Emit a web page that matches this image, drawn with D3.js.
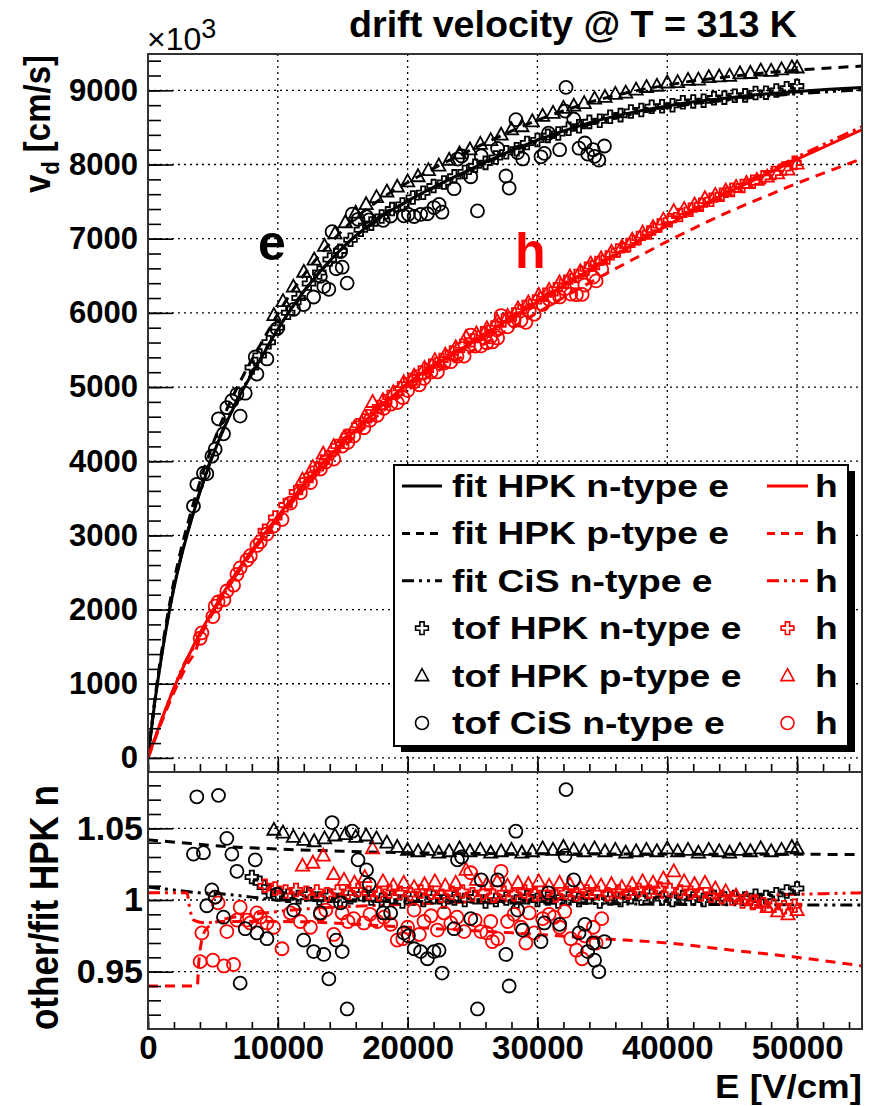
<!DOCTYPE html>
<html>
<head>
<meta charset="utf-8">
<script src="https://cdn.jsdelivr.net/npm/d3@7"></script>
<style>
  body { margin: 0; background: #fff; }
  svg text { font-family: "Liberation Sans", Arial, Helvetica, sans-serif; }
</style>
</head>
<body>
<svg id="plot"></svg>
<script>
// ---------- data ----------
// ticks
const xTicks = [0, 10000, 20000, 30000, 40000, 50000];
const yTopTicks = [0, 1000, 2000, 3000, 4000, 5000, 6000, 7000, 8000, 9000];
const yBotTicks = [0.95, 1, 1.05];
const yBotLabels = ["0.95", "1", "1.05"];

// fits, electrons (v in 1e3 cm/s)
const eFitE = [0,250,500,1000,1500,2000,2500,3000,4000,5000,6000,7000,8000,9000,10000,12000,14000,16000,18000,20000,22500,25000,27500,30000,32500,35000,37500,40000,42500,45000,47500,50000,52500,55000];
const eFitHpkN = [0,370,720,1320,1840,2290,2670,3000,3580,4080,4500,4860,5180,5480,5780,6290,6700,7040,7300,7510,7740,7950,8150,8330,8480,8610,8710,8790,8855,8905,8950,8985,9015,9040];
const eFitHpkP = [0,385,750,1375,1915,2383,2777,3119,3719,4235,4669,5040,5369,5677,5985,6510,6931,7279,7545,7758,7994,8208,8413,8598,8753,8887,8990,9071,9138,9189,9235,9272,9302,9327];
const eFitCisN = [0,373,726,1331,1855,2306,2686,3018,3598,4098,4518,4875,5190,5485,5780,6289,6697,7036,7294,7502,7730,7938,8135,8313,8460,8588,8686,8764,8828,8876,8920,8954,8983,9008];

// fits, holes
const hFitE = [0,1000,2000,3000,4000,5000,6000,7000,8000,9000,10000,12000,14000,16000,18000,20000,22500,25000,27500,30000,32500,35000,37500,40000,42500,45000,47500,50000,52500,55000];
const hFitHpkN = [0,490,940,1330,1680,1990,2280,2550,2800,3030,3260,3685,4075,4420,4745,5050,5340,5610,5880,6150,6420,6680,6930,7180,7420,7650,7860,8070,8270,8470];
const hFitHpkPE = [0,1000,2000,3000,3800,3900,4100,4500,5500,7000,10000,12500,15000,17500,20000,22500,25000,27500,30000,32500,35000,37500,40000,42500,45000,47500,50000,52500,55000];
const hFitHpkP = [0,461,884,1250,1513,1571,1660,1798,2103,2514,3211,3722,4176,4583,4954,5232,5490,5745,6003,6256,6500,6733,6964,7179,7382,7565,7747,7914,8080];
const hFitCisNE = [0,1000,2000,3000,3200,3500,4500,6000,8000,10000,15000,20000,25000,30000,35000,40000,45000,50000,55000];
const hFitCisN = [0,492,945,1337,1393,1484,1806,2250,2769,3234,4225,5035,5601,6150,6686,7195,7673,8102,8512];

// ratio curves of the fits (lower panel)
const rPeE = [0,2500,5000,10000,15000,20000,30000,40000,55000];
const rPe = [1.042,1.040,1.038,1.0355,1.034,1.033,1.0322,1.032,1.0318];
const rCeE = [0,2000,4000,6000,8000,10000,20000,30000,40000,55000];
const rCe = [1.009,1.007,1.005,1.004,1.002,1.000,0.999,0.998,0.997,0.9965];
const rPhE = [0,3800,3900,4100,4500,5500,10000,20000,30000,35000,40000,45000,50000,55000];
const rPh = [0.940,0.940,0.955,0.970,0.980,0.985,0.985,0.981,0.976,0.973,0.970,0.965,0.960,0.954];
const rChE = [0,3000,3200,3500,4500,6000,10000,20000,30000,40000,50000,55000];
const rCh = [1.005,1.005,0.995,0.986,0.984,0.987,0.992,0.997,1.000,1.002,1.004,1.005];

// tof HPK n-type, electrons
const tNeE = [8000,8600,9300,10000,10800,11600,12400,13200,14000,14800,15600,16400,17200,18000,18800,19600,20400,21200,22000,22800,23600,24400,25200,26000,26800,27600,28400,29200,30000,30800,31600,32400,33200,34000,34800,35600,36400,37200,38000,38800,39600,40400,41200,42000,42800,43600,44400,45200,46000,46800,47600,48400,49200,50000];
const tNeV = [5263,5424,5603,5803,6002,6200,6397,6543,6720,6836,6986,7120,7203,7300,7399,7461,7555,7620,7709,7757,7840,7900,7982,8022,8094,8165,8207,8289,8330,8386,8418,8482,8516,8575,8591,8643,8666,8715,8735,8778,8786,8800,8839,8851,8861,8895,8902,8927,8932,8964,8969,8999,9028,9057];
const tNeR = [1.016,1.012,1.006,1.004,1.003,1.002,1.004,1.001,1.003,1.000,1.002,1.004,1.001,1.000,1.002,0.999,1.001,1.000,1.002,0.999,1.001,1.000,1.002,0.999,1.000,1.001,0.999,1.002,1.000,1.001,0.999,1.001,1.000,1.002,0.999,1.001,1.000,1.002,1.001,1.003,1.001,1.000,1.002,1.001,1.000,1.002,1.001,1.002,1.001,1.003,1.002,1.004,1.006,1.008];

// tof HPK p-type, electrons
const tPeE = [9700,10400,11200,12000,12800,13600,14400,15200,16000,16800,17600,18400,19200,20000,20800,21600,22400,23200,24000,24800,25600,26400,27200,28000,28800,29600,30400,31200,32000,32800,33600,34400,35200,36000,36800,37600,38400,39200,40000,40800,41600,42400,43200,44000,44800,45600,46400,47200,48000,48800,49600,50000];
const tPeV = [5969,6158,6354,6554,6719,6903,7073,7222,7350,7465,7560,7636,7701,7773,7842,7925,7986,8064,8149,8203,8278,8328,8402,8473,8516,8583,8655,8696,8763,8793,8827,8888,8911,8953,8969,9009,9045,9062,9106,9111,9141,9144,9179,9187,9195,9228,9234,9267,9262,9282,9311,9308];
const tPeR = [1.049,1.047,1.044,1.042,1.041,1.043,1.045,1.046,1.044,1.045,1.043,1.040,1.037,1.035,1.034,1.035,1.033,1.034,1.036,1.034,1.035,1.033,1.034,1.035,1.033,1.034,1.036,1.035,1.037,1.035,1.034,1.036,1.034,1.035,1.033,1.034,1.035,1.034,1.036,1.034,1.035,1.033,1.035,1.034,1.033,1.035,1.034,1.036,1.034,1.035,1.037,1.036];

// tof CiS n-type, electrons
const tCeE = [3500,3760,4270,4530,4920,5175,5430,5815,6075,6460,6850,7100,7490,8260,8390,9160,9940,11220,11990,12760,13280,13540,13930,14180,14500,14830,14960,15340,15730,16180,16830,17040,18120,18690,19710,20060,20500,21000,21520,22030,22420,22650,23580,23840,24160,24860,25380,25670,26930,27570,27820,28340,28470,28860,30270,30530,30850,31710,32130,32200,32790,33200,33650,33870,34290,34400,34730,35160];
const tCeV = [3395,3689,3838,3830,4068,4162,4572,4369,4722,4815,4902,4608,4917,5405,5175,5379,5785,6048,6111,6214,6493,6355,6318,7094,6595,6827,6616,6401,7330,7261,7298,7254,7247,7306,7308,7328,7299,7328,7336,7420,7462,7357,7674,8073,8115,7835,7374,8116,8217,7845,7683,8604,8162,8075,8104,8150,8423,8200,8720,9040,8614,8220,8290,8140,8200,8110,8060,8250];
const tCeR = [1.032,1.072,1.033,0.996,1.007,1.002,1.073,0.988,1.043,1.032,1.020,0.942,0.980,1.028,0.977,0.973,1.004,0.993,0.972,0.964,0.991,0.962,0.945,1.054,0.972,0.998,0.964,0.924,1.048,1.028,1.021,1.011,0.991,0.991,0.977,0.975,0.966,0.964,0.959,0.964,0.965,0.949,0.980,1.028,1.030,0.987,0.924,1.014,1.014,0.962,0.940,1.048,0.993,0.979,0.971,0.984,1.005,0.983,1.031,1.077,1.014,0.977,0.983,0.964,0.970,0.958,0.950,0.971];

// tof HPK n-type, holes
const tNhE = [9000,9800,10600,11400,12200,13000,13800,14600,15400,16200,17000,17800,18600,19400,20200,21000,21800,22600,23400,24200,25000,25800,26600,27400,28200,29000,29800,30600,31400,32200,33000,33800,34600,35400,36200,37000,37800,38600,39400,40200,41000,41800,42600,43400,44200,45000,45800,46600,47400,48200,49000,49800];
const tNhV = [3061,3240,3408,3583,3743,3903,4052,4204,4342,4485,4606,4731,4865,4983,5094,5197,5286,5366,5464,5557,5632,5725,5802,5898,5979,6079,6153,6245,6319,6419,6498,6595,6672,6747,6840,6914,7009,7082,7177,7250,7319,7389,7459,7525,7591,7658,7710,7769,7827,7886,7946,8022];
const tNhR = [1.010,1.008,1.006,1.007,1.005,1.006,1.004,1.006,1.005,1.007,1.005,1.004,1.006,1.005,1.004,1.006,1.005,1.003,1.005,1.006,1.004,1.005,1.003,1.005,1.004,1.006,1.004,1.005,1.003,1.005,1.004,1.006,1.005,1.004,1.006,1.005,1.007,1.006,1.008,1.007,1.006,1.005,1.004,1.003,1.002,1.001,0.999,0.998,0.997,0.996,0.995,0.996];

// tof HPK p-type, holes
const tPhE = [11900,12700,13500,14300,15100,15900,16700,17300,18100,18900,19700,20500,21300,22100,22900,23700,24500,25300,26100,26900,27700,28500,29300,30100,30900,31700,32500,33300,34100,34900,35700,36500,37300,38100,38900,39700,40500,41300,42100,42900,43700,44500,45300,46100,46900,47700,48500,49300,50000];
const tPhV = [3752,3921,4101,4202,4326,4457,4606,4798,4823,4932,5065,5154,5258,5362,5437,5536,5672,5722,5792,5891,5960,6060,6142,6241,6310,6410,6491,6561,6665,6736,6823,6891,6987,7082,7155,7257,7372,7400,7461,7546,7590,7649,7698,7751,7793,7836,7880,7932,8013];
const tPhR = [1.024,1.026,1.031,1.018,1.014,1.012,1.016,1.036,1.013,1.010,1.012,1.009,1.011,1.013,1.010,1.012,1.021,1.014,1.011,1.013,1.010,1.012,1.011,1.013,1.010,1.012,1.011,1.009,1.012,1.010,1.011,1.009,1.011,1.013,1.012,1.015,1.020,1.013,1.011,1.012,1.008,1.006,1.003,1.001,0.998,0.995,0.992,0.990,0.993];

// tof CiS n-type, holes
const tChE = [4015,4150,5000,5175,5400,5850,6075,6590,6850,7100,7620,7880,8390,8650,9160,9680,10320,10970,11740,12510,13280,13700,14310,14960,15400,15850,16630,17100,17660,18170,18700,19200,19630,20000,20490,20900,21260,21800,22290,22800,23320,23800,24350,24860,25200,25640,26100,26400,26530,26930,27200,27700,28200,28730,29110,29370,29750,30400,30900,31280,31710,32100,32570,33000,33440,33650,34300,34520,34950];
const tChV = [1613,1687,1906,2045,2102,2133,2250,2329,2475,2562,2667,2726,2864,2915,3019,3126,3215,3436,3575,3713,3895,3989,4029,4204,4254,4338,4451,4553,4620,4714,4769,4790,4859,4954,5072,5030,5118,5202,5204,5323,5342,5414,5418,5701,5553,5554,5597,5675,5608,5662,5964,5812,5895,5899,5872,6027,5982,6114,6185,6212,6215,6325,6254,6245,6249,6376,6482,6430,6588];
const tChR = [0.957,0.977,0.958,1.002,0.998,0.954,0.978,0.955,0.986,0.995,0.986,0.984,0.991,0.988,0.984,0.981,0.966,0.991,0.985,0.981,0.990,0.993,0.976,0.991,0.985,0.987,0.984,0.990,0.985,0.988,0.983,0.972,0.973,0.981,0.993,0.976,0.985,0.989,0.979,0.991,0.984,0.988,0.978,1.019,0.986,0.978,0.977,0.985,0.971,0.973,1.020,0.985,0.990,0.981,0.970,0.991,0.977,0.987,0.990,0.988,0.981,0.992,0.973,0.965,0.959,0.975,0.981,0.970,0.987];

const legendLabels = ["fit HPK n-type e", "fit HPK p-type e", "fit CiS n-type e",
                      "tof HPK n-type e", "tof HPK p-type e", "tof CiS n-type e"];

// ---------- layout ----------
const W = 872, H = 1106;
const fr = {l: 148, r: 862, t: 54, mid: 772, b: 1029};
const RED = "#ff0000";

const svg = d3.select("#plot").attr("width", W).attr("height", H);
svg.append("rect").attr("width", W).attr("height", H).attr("fill", "#fff");

const x = d3.scaleLinear().domain([0, 55000]).range([fr.l, fr.r]);
const yTop = d3.scaleLinear().domain([-190, 9490]).range([fr.mid, fr.t]);
const yBot = d3.scaleLinear().domain([0.91, 1.09]).range([fr.b, fr.mid - 1]);

const defs = svg.append("defs");
defs.append("clipPath").attr("id", "clipTop").append("rect")
  .attr("x", fr.l).attr("y", fr.t).attr("width", fr.r - fr.l).attr("height", fr.mid - fr.t);
defs.append("clipPath").attr("id", "clipBot").append("rect")
  .attr("x", fr.l).attr("y", fr.mid - 1).attr("width", fr.r - fr.l).attr("height", fr.b - fr.mid + 1);

const zip = (a, b) => a.slice(0, Math.min(a.length, b.length)).map((d, i) => [d, b[i]]);

// ---------- grids ----------
function grid(yScale, yVals, top, bottom) {
  const g = svg.append("g").attr("stroke", "#000").attr("stroke-width", 1.3)
    .attr("stroke-dasharray", "2,4");
  g.selectAll(".gx").data(xTicks.slice(1)).join("line")
    .attr("x1", d => x(d)).attr("x2", d => x(d)).attr("y1", top).attr("y2", bottom);
  g.selectAll(".gy").data(yVals).join("line")
    .attr("x1", fr.l).attr("x2", fr.r).attr("y1", d => yScale(d)).attr("y2", d => yScale(d));
}
grid(yTop, yTopTicks, fr.t, fr.mid);
grid(yBot, yBotTicks, fr.mid, fr.b);

// ---------- drawing helpers ----------
const line = (ys) => d3.line().x(d => x(d[0])).y(d => ys(d[1])).curve(d3.curveMonotoneX);
const DASH = "10,7", DDOT = "12,5,3,5,3,5";

function drawLine(g, ys, E, V, color, dash) {
  g.append("path").datum(zip(E, V)).attr("d", line(ys))
    .attr("fill", "none").attr("stroke", color).attr("stroke-width", 3)
    .attr("stroke-dasharray", dash || null);
}

const shapes = {
  cross: d3.symbol().type(d3.symbolCross).size(90)(),
  tri: "M0,-7L6.6,5L-6.6,5Z",
  circ: d3.symbol().type(d3.symbolCircle).size(Math.PI * 6.5 * 6.5)()
};

function drawMarks(g, ys, E, V, shape, color) {
  g.append("g").selectAll("path").data(zip(E, V)).join("path")
    .attr("d", shapes[shape])
    .attr("transform", d => `translate(${x(d[0])},${ys(d[1])})`)
    .attr("fill", "none").attr("stroke", color).attr("stroke-width", 1.8);
}

// ---------- top panel ----------
const gt = svg.append("g").attr("clip-path", "url(#clipTop)");
drawLine(gt, yTop, eFitE, eFitHpkN, "#000");
drawLine(gt, yTop, eFitE, eFitHpkP, "#000", DASH);
drawLine(gt, yTop, eFitE, eFitCisN, "#000", DDOT);
drawMarks(gt, yTop, tCeE, tCeV, "circ", "#000");
drawMarks(gt, yTop, tPeE, tPeV, "tri", "#000");
drawMarks(gt, yTop, tNeE, tNeV, "cross", "#000");
drawLine(gt, yTop, hFitE, hFitHpkN, RED);
drawLine(gt, yTop, hFitHpkPE, hFitHpkP, RED, DASH);
drawLine(gt, yTop, hFitCisNE, hFitCisN, RED, DDOT);
drawMarks(gt, yTop, tChE, tChV, "circ", RED);
drawMarks(gt, yTop, tNhE, tNhV, "cross", RED);
drawMarks(gt, yTop, tPhE, tPhV, "tri", RED);

// ---------- bottom panel ----------
const gb = svg.append("g").attr("clip-path", "url(#clipBot)");
drawLine(gb, yBot, rPeE, rPe, "#000", DASH);
drawLine(gb, yBot, rCeE, rCe, "#000", DDOT);
drawLine(gb, yBot, rPhE, rPh, RED, DASH);
drawLine(gb, yBot, rChE, rCh, RED, DDOT);
drawMarks(gb, yBot, tNeE, tNeR, "cross", "#000");
drawMarks(gb, yBot, tNhE, tNhR, "cross", RED);
drawMarks(gb, yBot, tPhE, tPhR, "tri", RED);
drawMarks(gb, yBot, tChE, tChR, "circ", RED);
drawMarks(gb, yBot, tPeE, tPeR, "tri", "#000");
drawMarks(gb, yBot, tCeE, tCeR, "circ", "#000");

// ---------- axes ----------
function styleAxis(g, size) {
  g.select(".domain").remove();
  g.selectAll(".tick line").attr("stroke", "#000").attr("stroke-width", 1.6);
  g.selectAll(".tick text").attr("font-size", size).attr("font-weight", "bold").attr("fill", "#000");
}
const xMinor = d3.range(0, 55001, 2000);

// top panel
svg.append("g").attr("transform", `translate(${fr.l},0)`)
  .call(d3.axisLeft(yTop).tickValues(d3.range(0, 9401, 200)).tickSize(-13).tickFormat(""))
  .call(g => styleAxis(g, 0));
svg.append("g").attr("transform", `translate(${fr.l},0)`)
  .call(d3.axisLeft(yTop).tickValues(yTopTicks).tickSize(-25).tickPadding(10).tickFormat(d3.format("d")))
  .call(g => styleAxis(g, 31));
svg.append("g").attr("transform", `translate(0,${fr.mid})`)
  .call(d3.axisBottom(x).tickValues(xMinor).tickSize(-8).tickFormat(""))
  .call(g => styleAxis(g, 0));
svg.append("g").attr("transform", `translate(0,${fr.mid})`)
  .call(d3.axisBottom(x).tickValues(xTicks).tickSize(-15).tickFormat(""))
  .call(g => styleAxis(g, 0));

// bottom panel
svg.append("g").attr("transform", `translate(${fr.l},0)`)
  .call(d3.axisLeft(yBot).tickValues(d3.range(0.92, 1.085, 0.01)).tickSize(-13).tickFormat(""))
  .call(g => styleAxis(g, 0));
svg.append("g").attr("transform", `translate(${fr.l},0)`)
  .call(d3.axisLeft(yBot).tickValues(yBotTicks).tickSize(-25).tickPadding(5)
    .tickFormat((d, i) => yBotLabels[i]))
  .call(g => styleAxis(g, 34));
svg.append("g").attr("transform", `translate(0,${fr.b})`)
  .call(d3.axisBottom(x).tickValues(xMinor).tickSize(-7).tickFormat(""))
  .call(g => styleAxis(g, 0));
svg.append("g").attr("transform", `translate(0,${fr.b})`)
  .call(d3.axisBottom(x).tickValues(xTicks).tickSize(-12).tickPadding(7).tickFormat(d3.format("d")))
  .call(g => styleAxis(g, 33));

// frames
[[fr.t, fr.mid], [fr.mid, fr.b]].forEach(([a, b]) => {
  svg.append("rect").attr("x", fr.l).attr("y", a).attr("width", fr.r - fr.l).attr("height", b - a)
    .attr("fill", "none").attr("stroke", "#333").attr("stroke-width", 2);
});

// ---------- texts ----------
svg.append("text").attr("x", 797).attr("y", 37).attr("text-anchor", "end")
  .attr("font-size", 36).attr("font-weight", "bold").attr("textLength", 448)
  .attr("lengthAdjust", "spacingAndGlyphs").text("drift velocity @ T = 313 K");

const exp = svg.append("text").attr("x", 147).attr("y", 50).attr("font-size", 32);
exp.append("tspan").text("\u00d710");
exp.append("tspan").attr("font-size", 27).attr("dy", -12).text("3");

const yt = svg.append("text").attr("transform", "translate(50,55) rotate(-90) scale(1,1.12)")
  .attr("text-anchor", "end").attr("font-size", 33).attr("font-weight", "bold");
yt.append("tspan").text("v");
yt.append("tspan").attr("font-size", 22).attr("dy", 8).text("d");
yt.append("tspan").attr("dy", -8).text(" [cm/s]");

svg.append("text").attr("transform", "translate(58,1030) rotate(-90) scale(1,1.15)")
  .attr("font-size", 35).attr("font-weight", "bold").text("other/fit HPK n");

svg.append("text").attr("x", 862).attr("y", 1098).attr("text-anchor", "end")
  .attr("font-size", 34).attr("font-weight", "bold").attr("textLength", 147)
  .attr("lengthAdjust", "spacingAndGlyphs").text("E [V/cm]");

svg.append("text").attr("x", 258).attr("y", 260).attr("font-size", 50)
  .attr("font-weight", "bold").text("e");
svg.append("text").attr("x", 515).attr("y", 268).attr("font-size", 50)
  .attr("font-weight", "bold").attr("fill", RED).text("h");

// ---------- legend ----------
const lg = {x: 394, y: 465, w: 454, h: 281, row0: 486, dy: 47.4};
svg.append("rect").attr("x", lg.x + 7).attr("y", lg.y + 6).attr("width", lg.w).attr("height", lg.h).attr("fill", "#000");
svg.append("rect").attr("x", lg.x).attr("y", lg.y).attr("width", lg.w).attr("height", lg.h)
  .attr("fill", "#fff").attr("stroke", "#000").attr("stroke-width", 2);

const entryStyle = [
  {kind: "line", dash: null}, {kind: "line", dash: "8,6"}, {kind: "line", dash: DDOT},
  {kind: "mark", shape: "cross"}, {kind: "mark", shape: "tri"}, {kind: "mark", shape: "circ"}
];
legendLabels.forEach((lab, i) => {
  const cy = lg.row0 + i * lg.dy;
  const st = entryStyle[i];
  [["#000", 402, 442], [RED, 767, 808]].forEach(([c, x0, x1]) => {
    if (st.kind === "line") {
      svg.append("line").attr("x1", x0).attr("x2", x1).attr("y1", cy).attr("y2", cy)
        .attr("stroke", c).attr("stroke-width", 3).attr("stroke-dasharray", st.dash);
    } else {
      svg.append("path").attr("d", shapes[st.shape]).attr("transform", `translate(${(x0 + x1) / 2},${cy})`)
        .attr("fill", "none").attr("stroke", c).attr("stroke-width", 1.6);
    }
  });
  const t = svg.append("text").attr("x", 452).attr("y", cy + 11).attr("font-size", 31)
    .attr("font-weight", "bold").text(lab);
  t.attr("textLength", t.node().getComputedTextLength() * 1.2).attr("lengthAdjust", "spacingAndGlyphs");
  const h = svg.append("text").attr("x", 815).attr("y", cy + 11).attr("font-size", 31)
    .attr("font-weight", "bold").text("h");
  h.attr("textLength", h.node().getComputedTextLength() * 1.2).attr("lengthAdjust", "spacingAndGlyphs");
});
</script>
</body>
</html>
